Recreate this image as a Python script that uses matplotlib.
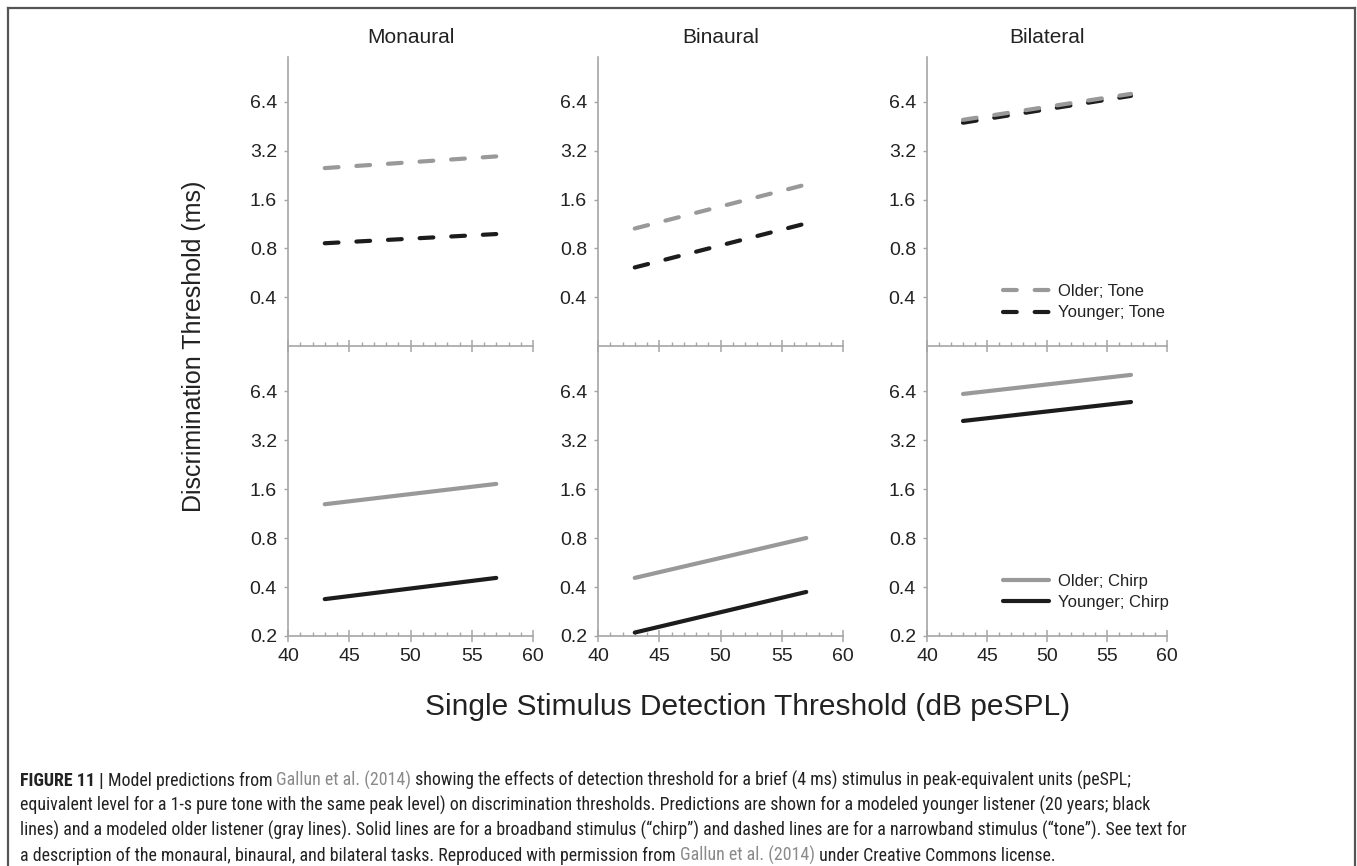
import matplotlib
matplotlib.use('Agg')
import matplotlib.pyplot as plt
from matplotlib.lines import Line2D
from matplotlib.ticker import FixedLocator, MultipleLocator, NullLocator

plt.rcParams['font.family'] = ['Liberation Sans', 'DejaVu Sans']

tasks = ['Monaural', 'Binaural', 'Bilateral']
x_db = [43, 57]

# predicted thresholds (ms) at 43 and 57 dB peSPL, one pair per task
older_tone = [[2.50, 2.95], [1.06, 1.98], [4.96, 7.17]]
younger_tone = [[0.86, 0.98], [0.61, 1.14], [4.76, 6.97]]
older_chirp = [[1.29, 1.72], [0.455, 0.80], [6.14, 8.04]]
younger_chirp = [[0.337, 0.455], [0.21, 0.373], [4.19, 5.48]]

y_ticks = [0.2, 0.4, 0.8, 1.6, 3.2, 6.4]
y_ticklabels = ['0.2', '0.4', '0.8', '1.6', '3.2', '6.4']
x_ticks = [40, 45, 50, 55, 60]

GRAY = '#999999'
BLACK = '#1c1c1c'
AXIS = '#a6a6a6'
TEXT = '#222222'

W, H = 1357, 866
fig = plt.figure(figsize=(W / 100, H / 100), dpi=100)


def add_px_axes(x0, y0, x1, y1):
    return fig.add_axes([x0 / W, 1 - y1 / H, (x1 - x0) / W, (y1 - y0) / H])


lefts = [288, 598, 927]
rights = [533, 843, 1167]
rows = [(57, 346), (346, 636)]
dash = (0, (3.3, 4.3))


def style_axes(ax, bottom_row):
    ax.set_yscale('log', base=2)
    ax.set_xlim(40, 60)
    ax.set_ylim(0.2, 12.1)
    ticks = y_ticks if bottom_row else y_ticks[1:]
    labels = y_ticklabels if bottom_row else y_ticklabels[1:]
    ax.yaxis.set_major_locator(FixedLocator(ticks))
    ax.yaxis.set_minor_locator(NullLocator())
    ax.set_yticklabels(labels)
    ax.xaxis.set_major_locator(FixedLocator(x_ticks))
    ax.xaxis.set_minor_locator(MultipleLocator(1))
    for s in ['top', 'right']:
        ax.spines[s].set_visible(False)
    for s in ['left', 'bottom']:
        ax.spines[s].set_color(AXIS)
        ax.spines[s].set_linewidth(1.2)
    ax.tick_params(axis='y', which='major', direction='out', length=3, width=1,
                   color=AXIS, labelsize=14, labelcolor=TEXT, pad=5)
    ax.tick_params(axis='x', which='major', direction='inout', length=8, width=1.1,
                   color=AXIS, labelsize=14, labelcolor=TEXT, pad=4.5,
                   labelbottom=bottom_row)
    ax.tick_params(axis='x', which='minor', direction='in', length=3, width=1,
                   color=AXIS)
    ax.patch.set_alpha(0)


def add_legend(ax, handles, labels):
    ax.legend(handles, labels, loc='center left', bbox_to_anchor=(0.315, 0.152),
              frameon=False, fontsize=12, handlelength=2.8, handletextpad=0.5,
              labelspacing=0.4, borderpad=0, borderaxespad=0, labelcolor=TEXT)


for i, task in enumerate(tasks):
    # dashed lines: narrowband "tone"
    ax = add_px_axes(lefts[i], rows[0][0], rights[i], rows[0][1])
    style_axes(ax, False)
    hy, = ax.plot(x_db, younger_tone[i], color=BLACK, lw=3, ls=dash,
                  dash_capstyle='round')
    ho, = ax.plot(x_db, older_tone[i], color=GRAY, lw=3, ls=dash,
                  dash_capstyle='round')
    if i == 2:
        add_legend(ax, [ho, hy], ['Older; Tone', 'Younger; Tone'])

    # solid lines: broadband "chirp"
    ax = add_px_axes(lefts[i], rows[1][0], rights[i], rows[1][1])
    style_axes(ax, True)
    ho, = ax.plot(x_db, older_chirp[i], color=GRAY, lw=3, solid_capstyle='round')
    hy, = ax.plot(x_db, younger_chirp[i], color=BLACK, lw=3, solid_capstyle='round')
    if i == 2:
        add_legend(ax, [ho, hy], ['Older; Chirp', 'Younger; Chirp'])

    fig.text((lefts[i] + rights[i]) / 2 / W, 1 - 43 / H, task, ha='center',
             va='baseline', fontsize=15, color=TEXT)

fig.text(194 / W, 1 - 346 / H, 'Discrimination Threshold (ms)', rotation=90,
         ha='center', va='center', fontsize=18, color=TEXT)
fig.text(748 / W, 1 - 715 / H, 'Single Stimulus Detection Threshold (dB peSPL)',
         ha='center', va='baseline', fontsize=21.5, color=TEXT)

# outer frame (bottom edge falls outside the canvas)
for xs, ys in [([8, 8], [866, 8]), ([8, 1355], [8, 8]), ([1355, 1355], [8, 866])]:
    fig.add_artist(Line2D([x / W for x in xs], [1 - y / H for y in ys],
                          color='#555555', lw=1.6))

# caption
cap_family = ['Liberation Sans Narrow', 'Roboto Condensed', 'Liberation Sans']
link = '#8a8a8a'
caption = [
    [('FIGURE 11 | ', 'bold', TEXT), ('Model predictions from ', 'normal', TEXT),
     ('Gallun et al. (2014)', 'normal', link),
     (' showing the effects of detection threshold for a brief (4 ms) stimulus in '
      'peak-equivalent units (peSPL;', 'normal', TEXT)],
    [('equivalent level for a 1-s pure tone with the same peak level) on discrimination '
      'thresholds. Predictions are shown for a modeled younger listener (20 years; black',
      'normal', TEXT)],
    [('lines) and a modeled older listener (gray lines). Solid lines are for a broadband '
      'stimulus (\u201cchirp\u201d) and dashed lines are for a narrowband stimulus '
      '(\u201ctone\u201d). See text for', 'normal', TEXT)],
    [('a description of the monaural, binaural, and bilateral tasks. Reproduced with '
      'permission from ', 'normal', TEXT), ('Gallun et al. (2014)', 'normal', link),
     (' under Creative Commons license.', 'normal', TEXT)],
]
renderer = fig.canvas.get_renderer()

# fit the caption size so the third line spans its column
probe = fig.text(0, 0, caption[2][0][0], fontsize=10, family=cap_family)
cap_size = 10 * 1160 / probe.get_window_extent(renderer=renderer).width
probe.remove()

baselines = [786, 811, 836, 861]
for line, yb in zip(caption, baselines):
    x = 20
    for txt, weight, col in line:
        t = fig.text(x / W, 1 - yb / H, txt, va='baseline', ha='left',
                     fontsize=cap_size, weight=weight, color=col, family=cap_family)
        x += t.get_window_extent(renderer=renderer).width

fig.savefig('out.png', dpi=100)
